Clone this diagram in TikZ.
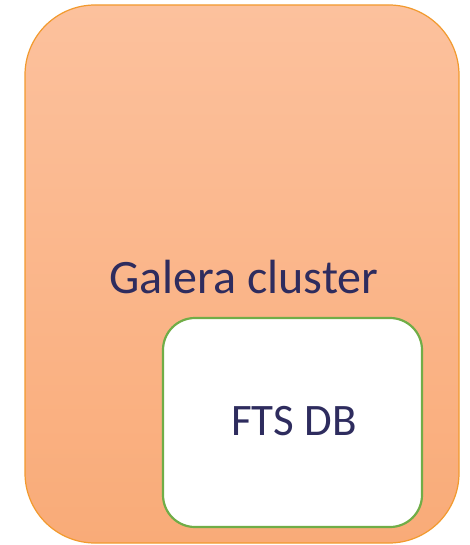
\documentclass[tikz,border=0pt]{standalone}
\usepackage{fontspec}
\setmainfont{Carlito}
\definecolor{txt}{HTML}{2E2C5E}
\definecolor{topc}{HTML}{FCC19D}
\definecolor{botc}{HTML}{F9AB78}
\definecolor{edgeo}{HTML}{F29A2E}
\definecolor{grn}{HTML}{70AD47}
\tikzset{
  cluster/.style={draw=edgeo, line width=1.2pt, rounded corners=70pt, top color=topc, bottom color=botc},
  dbbox/.style={draw=grn, line width=2.2pt, rounded corners=32pt, fill=white},
  lbl/.style={text=txt, inner sep=0pt, anchor=base}
}
\begin{document}
\begin{tikzpicture}[x=1pt,y=-1pt]
\useasboundingbox (0,0) rectangle (469,545);
\draw[cluster] (25,5) rectangle (459,543);
\draw[dbbox] (163,318) rectangle (422,527);
\node[lbl, font=\fontsize{48}{58}\selectfont] (cl) at (244,293) {Galera cluster};
\node[lbl, font=\fontsize{45}{54}\selectfont] (db) at (294,435) {FTS DB};
\end{tikzpicture}
\end{document}
